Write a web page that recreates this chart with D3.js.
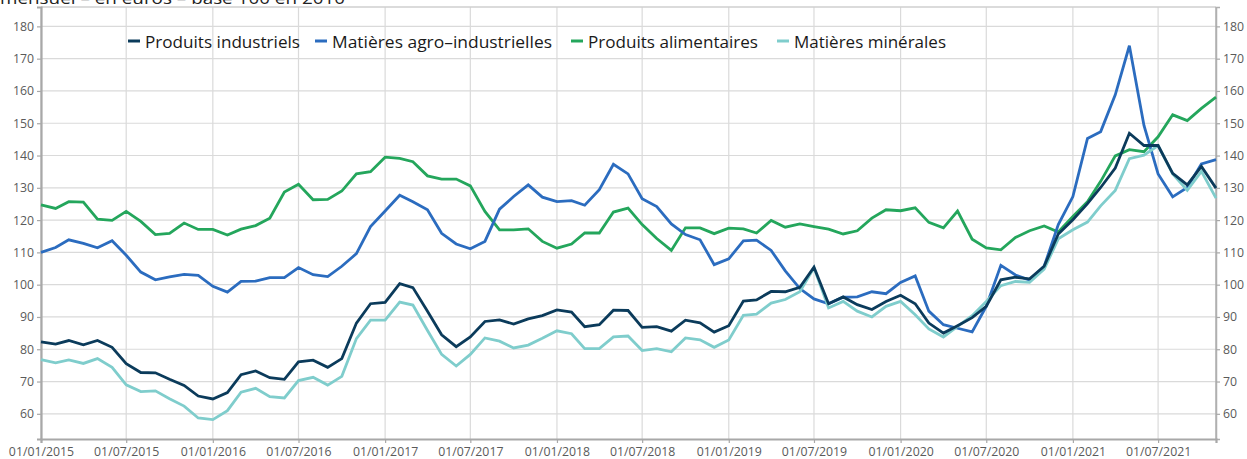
<!DOCTYPE html>
<html><head><meta charset="utf-8">
<script src="https://cdn.jsdelivr.net/npm/d3@7"></script>
<style>
html,body{margin:0;padding:0;background:#fff;overflow:hidden;}
svg{display:block;}
</style></head>
<body>
<svg id="c" width="1247" height="459"></svg>
<script>
const title = "mensuel – en euros – base 100 en 2010";
const startMonth = "2015-01-01";
const seriesNames = ["Produits industriels","Matières agro–industrielles","Produits alimentaires","Matières minérales"];
const yTicks = [60,70,80,90,100,110,120,130,140,150,160,170,180];
const xTickLabels = ["01/01/2015","01/07/2015","01/01/2016","01/07/2016","01/01/2017","01/07/2017","01/01/2018","01/07/2018","01/01/2019","01/07/2019","01/01/2020","01/07/2020","01/01/2021","01/07/2021"];

const industriels = [
 82.3,81.6,82.7,81.4,82.7,80.6,75.5,72.8,72.7,70.7,68.8,65.5,
 64.6,66.6,72.1,73.3,71.2,70.7,76.1,76.6,74.4,77.1,88.1,94.1,
 94.5,100.3,99.1,91.8,84.5,80.8,83.8,88.6,89.1,87.8,89.4,90.4,
 92.2,91.5,87.0,87.6,92.1,92.0,86.8,87.0,85.6,89.0,88.2,85.3,
 87.3,94.9,95.3,97.9,97.8,99.2,105.4,94.1,96.2,93.8,92.3,94.8,
 96.7,94.1,88.1,85.0,87.3,89.8,93.3,101.5,102.3,101.8,105.7,115.7,
 120.1,125.1,130.1,136.1,146.9,143.1,143.1,134.5,130.9,136.6,129.9];
const agro = [
 110.0,111.5,113.9,112.8,111.4,113.6,109.1,103.9,101.5,102.4,103.2,102.9,
 99.5,97.7,101.0,101.1,102.2,102.2,105.3,103.1,102.5,105.7,109.6,118.0,
 122.8,127.7,125.7,123.2,115.9,112.6,111.1,113.4,123.4,127.3,130.9,127.1,
 125.7,126.0,124.6,129.4,137.3,134.3,126.6,124.2,118.8,115.5,113.9,106.2,
 108.0,113.6,113.8,110.6,104.3,98.8,95.6,94.1,96.1,96.2,97.8,97.2,
 100.7,102.7,91.8,87.6,86.5,85.4,93.3,106.0,103.0,101.4,105.7,118.6,
 127.3,145.3,147.4,158.8,174.0,149.3,134.3,127.2,130.1,137.4,138.7];
const alimentaires = [
 124.7,123.6,125.7,125.6,120.3,119.9,122.7,119.6,115.5,115.9,119.1,117.1,
 117.1,115.4,117.2,118.3,120.6,128.7,131.1,126.3,126.4,129.0,134.3,135.0,
 139.5,139.1,138.1,133.7,132.7,132.7,130.6,122.7,117.0,117.0,117.3,113.4,
 111.3,112.6,116.0,116.0,122.5,123.7,118.6,114.3,110.6,117.6,117.6,115.8,
 117.5,117.3,116.0,119.9,117.8,118.8,118.0,117.2,115.7,116.7,120.6,123.2,
 122.9,123.8,119.3,117.6,122.8,114.1,111.4,110.8,114.6,116.7,118.2,116.3,
 121.1,125.7,132.0,139.9,141.8,141.2,145.8,152.6,150.8,154.6,158.1];
const minerales = [
 76.8,75.8,76.7,75.6,77.1,74.4,69.0,66.9,67.1,64.7,62.4,58.7,
 58.2,61.0,66.7,67.9,65.3,64.9,70.3,71.3,68.9,71.6,83.3,89.0,
 89.0,94.6,93.7,85.8,78.4,74.8,78.4,83.5,82.5,80.4,81.3,83.4,
 85.7,84.8,80.2,80.2,83.8,84.1,79.6,80.2,79.2,83.5,82.9,80.6,
 82.9,90.5,90.9,94.3,95.4,97.8,105.2,92.8,94.8,91.8,90.0,93.3,
 94.8,90.7,86.3,83.8,87.1,90.4,94.8,99.7,101.0,100.7,104.8,114.2,
 117.0,119.4,124.4,129.2,139.0,140.1,143.1,134.3,129.2,135.1,126.8];

const colors = ["#0b3b5b","#2b6cbf","#24a65c","#7fcdcc"];
const values = [industriels, agro, alimentaires, minerales];

const parse = d3.timeParse("%Y-%m-%d");
const fmtParse = d3.timeParse("%d/%m/%Y");
const t0 = parse(startMonth);
const dates = industriels.map((_, i) => d3.timeMonth.offset(t0, i));

const L = 41, R = 1216, T = 7, B = 439;
const x = d3.scaleTime().domain([t0, dates[dates.length-1]]).range([L, R]);
const y = d3.scaleLinear().domain([52.2, 186]).range([B, T]);

const svg = d3.select("#c");
const font = "'Open Sans', 'Noto Sans', sans-serif";

// title (cut off at top, as in the source)
svg.append("text").attr("x", 0).attr("y", 4).attr("font-family", font)
  .attr("font-size", 17).attr("fill", "#222").attr("textLength", 345)
  .attr("lengthAdjust","spacingAndGlyphs").text(title);

const tickDates = xTickLabels.map(s => fmtParse(s));

// grid
const g = svg.append("g");
g.selectAll("line.h").data(yTicks).join("line")
  .attr("x1", L).attr("x2", R).attr("y1", d => y(d)).attr("y2", d => y(d))
  .attr("stroke", "#dadada").attr("stroke-width", 1.2);
g.selectAll("line.v").data(tickDates).join("line")
  .attr("y1", T).attr("y2", B).attr("x1", d => x(d)).attr("x2", d => x(d))
  .attr("stroke", "#dadada").attr("stroke-width", 1.2);

// frame
svg.append("line").attr("x1", L).attr("x2", R).attr("y1", T).attr("y2", T).attr("stroke", "#cfcfcf").attr("stroke-width", 1.5);
svg.append("line").attr("x1", R).attr("x2", R).attr("y1", T).attr("y2", B).attr("stroke", "#b0b0b0").attr("stroke-width", 1.5);

// axes
const axL = d3.axisLeft(y).tickValues(yTicks).tickSize(4).tickPadding(3);
const axR = d3.axisRight(y).tickValues(yTicks).tickSize(4).tickPadding(3);
const axB = d3.axisBottom(x).tickValues(tickDates).tickSize(4).tickPadding(2)
  .tickFormat((d, i) => xTickLabels[i]);

function styleAxis(sel){
  sel.select(".domain").attr("stroke", "#a8a8a8").attr("stroke-width", 2.2);
  sel.selectAll(".tick line").attr("stroke", "#a8a8a8").attr("stroke-width", 1.2);
  sel.selectAll(".tick text").attr("fill", "#5a5a5a").attr("font-family", font).attr("font-size", 12.3);
}
svg.append("g").attr("transform", `translate(${L},0)`).call(axL).call(styleAxis);
svg.append("g").attr("transform", `translate(${R},0)`).call(axR).call(styleAxis)
  .select(".domain").attr("stroke-width", 1.5).attr("stroke", "#b0b0b0");
svg.append("g").attr("transform", `translate(0,${B})`).call(axB).call(styleAxis)
  .selectAll(".tick text").attr("dy", "0.9em");

// lines
const line = d3.line().x((d, i) => x(dates[i])).y(d => y(d));
const drawOrder = [2, 1, 3, 0];
svg.append("g").selectAll("path").data(drawOrder).join("path")
  .attr("d", k => line(values[k]))
  .attr("fill", "none").attr("stroke", k => colors[k])
  .attr("stroke-width", 2.8).attr("stroke-linejoin", "miter").attr("stroke-miterlimit", 3);

// legend
const legX = [128, 315, 571, 777];
const legW = [155, 220, 170, 152];
const leg = svg.append("g");
seriesNames.forEach((n, i) => {
  leg.append("line").attr("x1", legX[i]).attr("x2", legX[i] + 12).attr("y1", 41).attr("y2", 41)
    .attr("stroke", colors[i]).attr("stroke-width", 3);
  leg.append("text").attr("x", legX[i] + 17).attr("y", 47.5).attr("font-family", font)
    .attr("font-size", 17).attr("fill", "#1a1a1a").attr("textLength", legW[i])
    .attr("lengthAdjust", "spacingAndGlyphs").text(n);
});
</script>
</body></html>
